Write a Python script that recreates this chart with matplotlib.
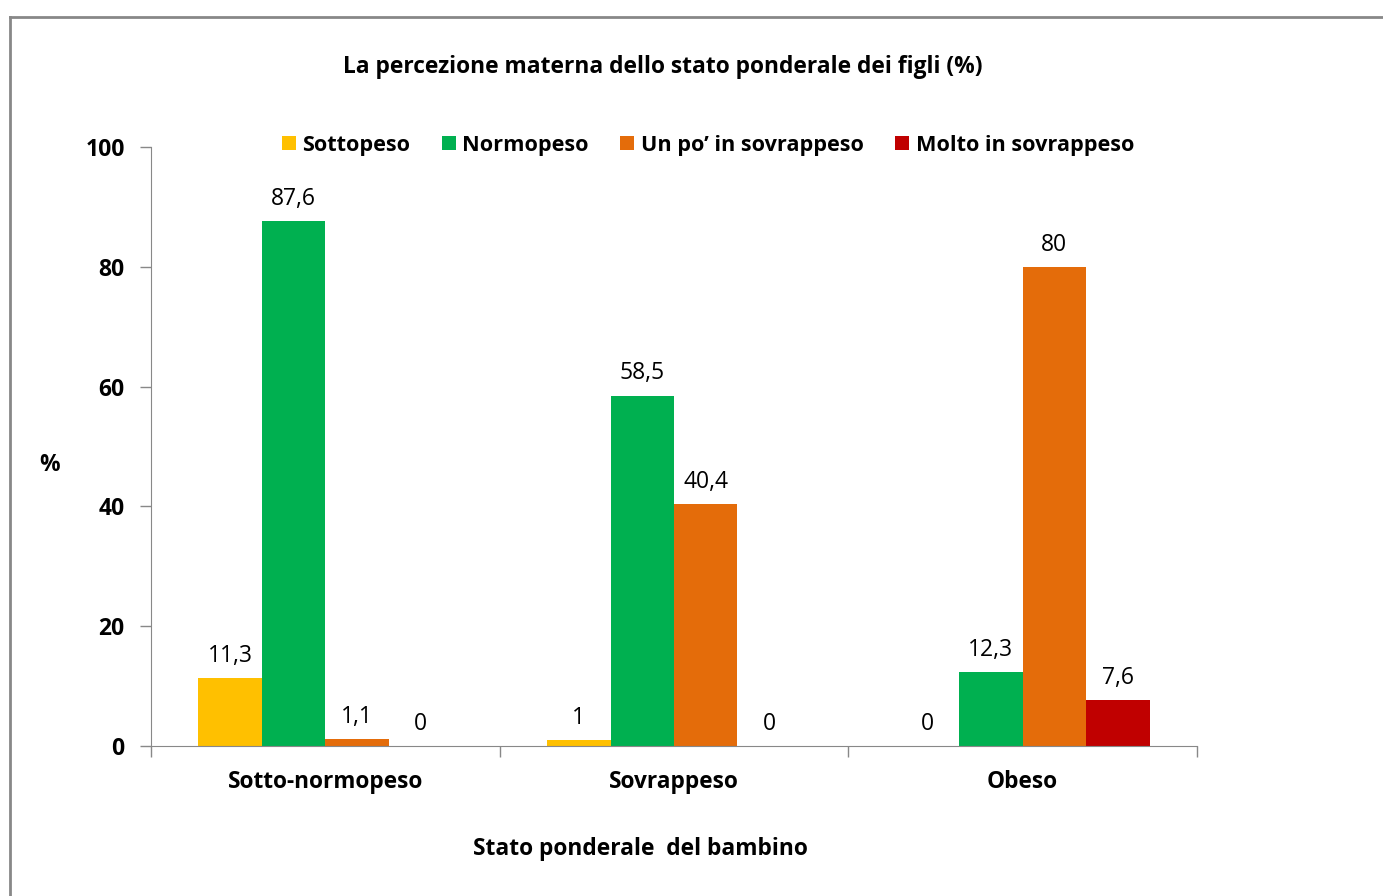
import matplotlib
matplotlib.use("Agg")
import matplotlib.pyplot as plt
import numpy as np
from matplotlib.lines import Line2D
from matplotlib.patches import Patch

plt.rcParams['font.family'] = ['Open Sans', 'DejaVu Sans']

categories = ["Sotto-normopeso", "Sovrappeso", "Obeso"]
series_names = ["Sottopeso", "Normopeso", "Un po\u2019 in sovrappeso", "Molto in sovrappeso"]
sottopeso = [11.3, 1, 0]
normopeso = [87.6, 58.5, 12.3]
un_po = [1.1, 40.4, 80]
molto = [0, 0, 7.6]
label_sottopeso = ["11,3", "1", "0"]
label_normopeso = ["87,6", "58,5", "12,3"]
label_un_po = ["1,1", "40,4", "80"]
label_molto = ["0", "0", "7,6"]
colors = ["#FFC000", "#00B050", "#E46C0A", "#C00000"]

W, H = 1383, 896
fig = plt.figure(figsize=(W / 100, H / 100), dpi=100)
ax = fig.add_axes([151 / W, 1 - 746 / H, (1197 - 151) / W, (746 - 147) / H])

values = [sottopeso, normopeso, un_po, molto]
labels = [label_sottopeso, label_normopeso, label_un_po, label_molto]
x = np.arange(len(categories))
bw = 0.182
for i, (vals, labs, c) in enumerate(zip(values, labels, colors)):
    pos = x + (i - 1.5) * bw
    ax.bar(pos, vals, width=bw, color=c, label=series_names[i])
    for p, v, l in zip(pos, vals, labs):
        ax.annotate(l, (p, v), xytext=(0, 16), textcoords="offset points",
                    ha="center", va="center", fontsize=16.5, color="#000000")

ax.set_xlim(-0.5, 2.5)
ax.set_ylim(0, 100)
ax.set_yticks([0, 20, 40, 60, 80, 100])
ax.set_yticklabels(["0", "20", "40", "60", "80", "100"], fontsize=16.5, fontweight="bold")
ax.set_xticks([-0.5, 0.5, 1.5, 2.5])
ax.set_xticklabels([])
ax.set_xticks(x, minor=True)
ax.set_xticklabels(categories, minor=True, fontsize=16.3, fontweight="bold")
ax.tick_params(axis="x", which="minor", length=0, pad=17)
ax.tick_params(axis="x", which="major", length=8, color="#888888", width=1)
ax.tick_params(axis="y", length=8, color="#888888", width=1, pad=11)
for s in ["top", "right"]:
    ax.spines[s].set_visible(False)
ax.spines["left"].set_color("#888888")
ax.spines["bottom"].set_color("#888888")

fig.text(663 / W, 1 - 67 / H, "La percezione materna dello stato ponderale dei figli (%)",
         ha="center", va="center", fontsize=16.4, fontweight="bold")
fig.text(640 / W, 1 - 849 / H, "Stato ponderale  del bambino",
         ha="center", va="center", fontsize=16.4, fontweight="bold")
fig.text(50 / W, 1 - 465 / H, "%", ha="center", va="center", fontsize=16.4, fontweight="bold")

handles = [Patch(facecolor=c, edgecolor="none") for c in colors]
leg = fig.legend(handles, series_names, loc="center", bbox_to_anchor=(708 / W, 1 - 145 / H),
                 ncol=4, frameon=False, handlelength=0.65, handleheight=0.65,
                 handletextpad=0.3, columnspacing=1.45,
                 prop={"weight": "bold", "size": 15.6})

fig.add_artist(Line2D([10 / W, 1.0], [1 - 17 / H, 1 - 17 / H], transform=fig.transFigure,
                      color="#888888", lw=2))
fig.add_artist(Line2D([10 / W, 10 / W], [1 - 17 / H, 0], transform=fig.transFigure,
                      color="#888888", lw=2))

fig.savefig("out.png", dpi=100)
